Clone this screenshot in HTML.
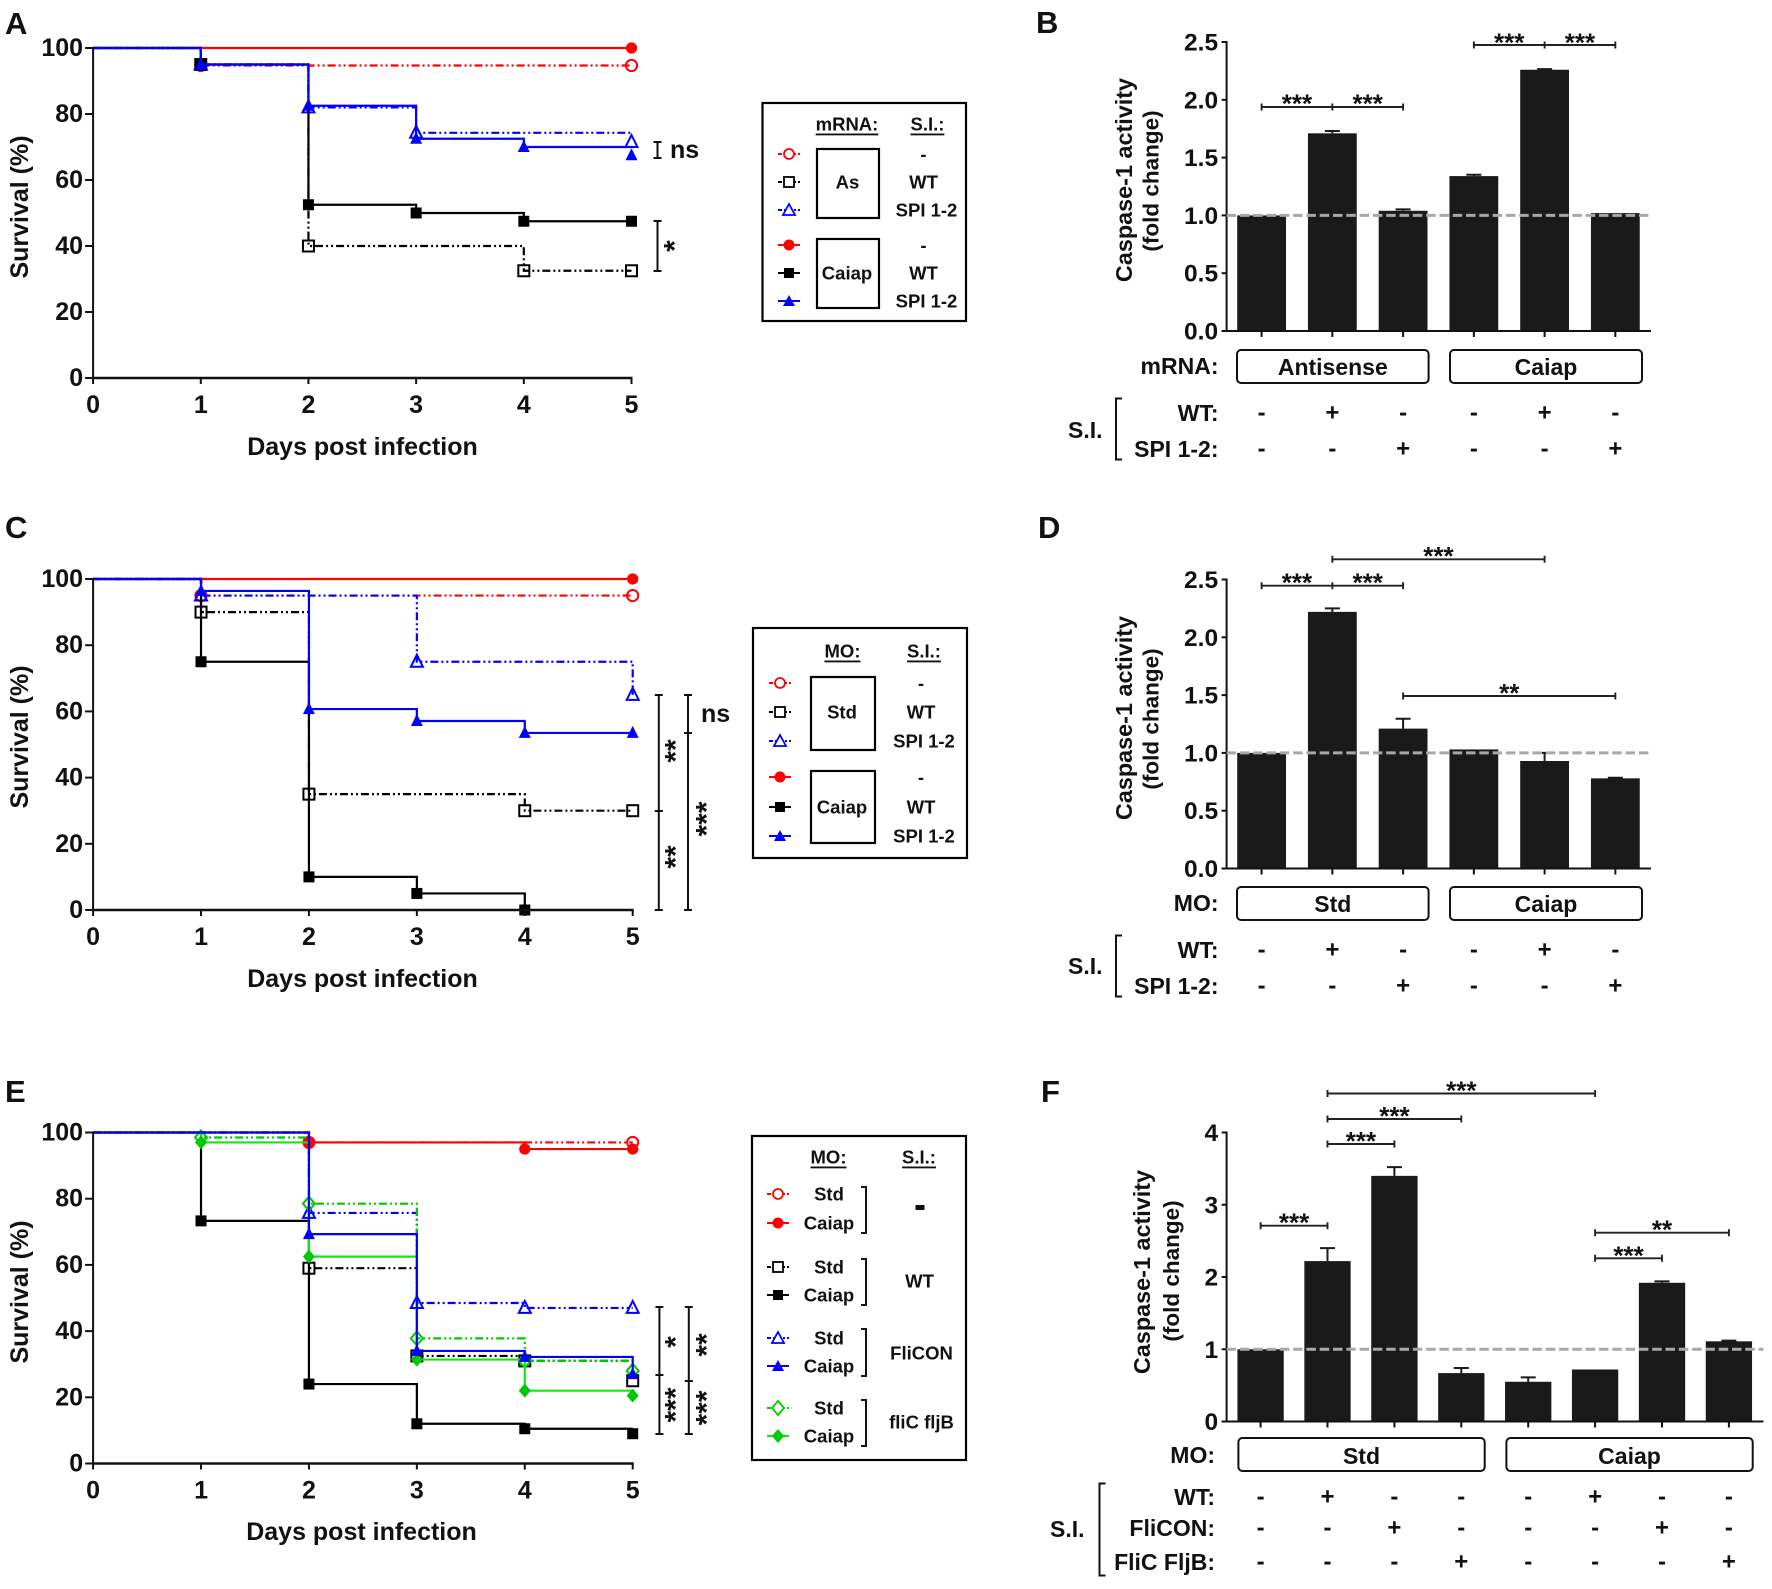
<!DOCTYPE html>
<html lang="en">
<head>
<meta charset="utf-8">
<title>Caiap survival and caspase-1 activity panels</title>
<style>
html,body{margin:0;padding:0;background:#fff;}
body{width:1772px;height:1589px;overflow:hidden;}
svg{display:block;}
text{font-family:"Liberation Sans",Arial,sans-serif;font-weight:bold;fill:#111;dominant-baseline:central;}
.l{font-size:31px;dominant-baseline:alphabetic;}
.t25{font-size:25px;}
.t24{font-size:24px;}
.t23{font-size:23px;}
.t22{font-size:22.5px;}
.t23b{font-size:23.4px;}
.t18{font-size:18.5px;}
.m{text-anchor:middle;}
.e{text-anchor:end;}
.u{text-decoration:underline;}
.frame{fill:none;stroke:#000;stroke-width:2.2;}
.gbox{fill:#fff;stroke:#111;stroke-width:2;}
.br{fill:none;stroke:#111;stroke-width:2;}
</style>
</head>
<body>
<svg id="figure" xmlns="http://www.w3.org/2000/svg" width="1772" height="1589" viewBox="0 0 1772 1589">
<defs>
<g id="sym-red-open"><path d="M-11 0H11" stroke="#f00" stroke-width="2" stroke-dasharray="4 2 2 2"/><circle r="5" fill="#fff" stroke="#f00" stroke-width="1.8"/></g>
<g id="sym-black-open"><path d="M-11 0H11" stroke="#000" stroke-width="2" stroke-dasharray="4 2 2 2"/><rect x="-5" y="-5" width="10" height="10" fill="#fff" stroke="#000" stroke-width="1.8"/></g>
<g id="sym-blue-open"><path d="M-11 0H11" stroke="#00f" stroke-width="2" stroke-dasharray="4 2 2 2"/><path d="M0-6L6 5H-6Z" fill="#fff" stroke="#00f" stroke-width="1.8"/></g>
<g id="sym-green-open"><path d="M-11 0H11" stroke="#0c0" stroke-width="2" stroke-dasharray="4 2 2 2"/><path d="M0-7L6 0L0 7L-6 0Z" fill="#fff" stroke="#0c0" stroke-width="1.8"/></g>
<g id="sym-red-solid"><path d="M-11 0H11" stroke="#f00" stroke-width="2"/><circle r="5.5" fill="#f00"/></g>
<g id="sym-black-solid"><path d="M-11 0H11" stroke="#000" stroke-width="2"/><rect x="-5" y="-5" width="10" height="10" fill="#000"/></g>
<g id="sym-blue-solid"><path d="M-11 0H11" stroke="#00f" stroke-width="2"/><path d="M0-6L6 5H-6Z" fill="#00f"/></g>
<g id="sym-green-solid"><path d="M-11 0H11" stroke="#0e0" stroke-width="2"/><path d="M0-7L6 0L0 7L-6 0Z" fill="#0c0"/></g>
</defs>

<text class="l" x="5" y="34">A</text>
<text class="l" x="1036" y="33">B</text>
<text class="l" x="5" y="538">C</text>
<text class="l" x="1038" y="538">D</text>
<text class="l" x="5" y="1102">E</text>
<text class="l" x="1041" y="1102">F</text>

<text class="t25 m" transform="translate(20,207) rotate(-90)">Survival (%)</text>
<text class="t25 m" x="362.5" y="447">Days post infection</text>
<text class="t25 m" transform="translate(20,737) rotate(-90)">Survival (%)</text>
<text class="t25 m" x="362.5" y="979">Days post infection</text>
<text class="t25 m" transform="translate(20,1292) rotate(-90)">Survival (%)</text>
<text class="t25 m" x="361.5" y="1532">Days post infection</text>

<!-- Legend A -->
<g>
<rect class="frame" x="762.5" y="103" width="203.5" height="218"/>
<text class="t18 m u" x="847" y="124">mRNA:</text><text class="t18 m u" x="927.5" y="124">S.I.:</text>
<rect class="frame" x="817" y="149" width="62" height="69"/><rect class="frame" x="817" y="239" width="62" height="69"/>
<text class="t18 m" x="847.5" y="182">As</text><text class="t18 m" x="847" y="273">Caiap</text>
<use href="#sym-red-open" x="789" y="154"/><use href="#sym-black-open" x="789" y="182"/><use href="#sym-blue-open" x="789" y="210"/>
<use href="#sym-red-solid" x="789" y="245"/><use href="#sym-black-solid" x="789" y="273"/><use href="#sym-blue-solid" x="789" y="301"/>
<text class="t18 m" x="923.5" y="154">-</text><text class="t18 m" x="923.5" y="182">WT</text><text class="t18 m" x="926.5" y="210">SPI 1-2</text>
<text class="t18 m" x="923.5" y="245">-</text><text class="t18 m" x="923.5" y="273">WT</text><text class="t18 m" x="926.5" y="301">SPI 1-2</text>
</g>

<!-- Legend C -->
<g>
<rect class="frame" x="753" y="628" width="214" height="230"/>
<text class="t18 m u" x="842.5" y="651">MO:</text><text class="t18 m u" x="924" y="651">S.I.:</text>
<rect class="frame" x="811" y="677" width="64" height="73"/><rect class="frame" x="811" y="771" width="64" height="72"/>
<text class="t18 m" x="842" y="712">Std</text><text class="t18 m" x="842" y="807">Caiap</text>
<use href="#sym-red-open" x="780" y="683"/><use href="#sym-black-open" x="780" y="712"/><use href="#sym-blue-open" x="780" y="741"/>
<use href="#sym-red-solid" x="780" y="777"/><use href="#sym-black-solid" x="780" y="807"/><use href="#sym-blue-solid" x="780" y="836"/>
<text class="t18 m" x="921" y="683">-</text><text class="t18 m" x="921" y="712">WT</text><text class="t18 m" x="924" y="741">SPI 1-2</text>
<text class="t18 m" x="921" y="777">-</text><text class="t18 m" x="921" y="807">WT</text><text class="t18 m" x="924" y="836">SPI 1-2</text>
</g>

<!-- Legend E -->
<g>
<rect class="frame" x="752" y="1136" width="214" height="324"/>
<text class="t18 m u" x="828.5" y="1157">MO:</text><text class="t18 m u" x="919" y="1157">S.I.:</text>
<use href="#sym-red-open" x="778" y="1194"/><use href="#sym-red-solid" x="778" y="1223"/>
<use href="#sym-black-open" x="778" y="1267"/><use href="#sym-black-solid" x="778" y="1295"/>
<use href="#sym-blue-open" x="778" y="1338"/><use href="#sym-blue-solid" x="778" y="1366"/>
<use href="#sym-green-open" x="778" y="1408"/><use href="#sym-green-solid" x="778" y="1436"/>
<text class="t18 m" x="829" y="1194">Std</text><text class="t18 m" x="829" y="1223">Caiap</text>
<text class="t18 m" x="829" y="1267">Std</text><text class="t18 m" x="829" y="1295">Caiap</text>
<text class="t18 m" x="829" y="1338">Std</text><text class="t18 m" x="829" y="1366">Caiap</text>
<text class="t18 m" x="829" y="1408">Std</text><text class="t18 m" x="829" y="1436">Caiap</text>
<path class="br" d="M861 1187H866V1233H861M861 1259H866V1305H861M861 1329H866V1376H861M861 1400H866V1446H861"/>
<rect x="915.5" y="1205" width="9" height="5" fill="#111"/>
<text class="t18 m" x="919.5" y="1281">WT</text><text class="t18 m" x="921.5" y="1353">FliCON</text><text class="t18 m" x="921.5" y="1422">fliC fljB</text>
</g>

<!-- Panel B labels -->
<text class="t23b m" transform="translate(1124,180) rotate(-90)">Caspase-1 activity</text>
<text class="t22 m" transform="translate(1151,181) rotate(-90)">(fold change)</text>
<text class="t23 e" x="1218.5" y="366">mRNA:</text>
<rect class="gbox" x="1237" y="350" width="191.6" height="33" rx="4"/>
<text class="t23 m" x="1332.8" y="367">Antisense</text>
<rect class="gbox" x="1450" y="350" width="192" height="33" rx="4"/>
<text class="t23 m" x="1546" y="367">Caiap</text>
<text class="t23 e" x="1218.5" y="413">WT:</text>
<text class="t23 e" x="1218.5" y="449">SPI 1-2:</text>
<text class="t23" x="1068" y="430">S.I.</text>
<path class="br" d="M1122 398.5H1116V459.5H1122"/>

<!-- Panel D labels -->
<text class="t23b m" transform="translate(1124,718) rotate(-90)">Caspase-1 activity</text>
<text class="t22 m" transform="translate(1151,719) rotate(-90)">(fold change)</text>
<text class="t23 e" x="1218.5" y="903">MO:</text>
<rect class="gbox" x="1237" y="887" width="191.6" height="33" rx="4"/>
<text class="t23 m" x="1332.8" y="904">Std</text>
<rect class="gbox" x="1450" y="887" width="192" height="33" rx="4"/>
<text class="t23 m" x="1546" y="904">Caiap</text>
<text class="t23 e" x="1218.5" y="950">WT:</text>
<text class="t23 e" x="1218.5" y="986">SPI 1-2:</text>
<text class="t23" x="1068" y="966">S.I.</text>
<path class="br" d="M1122 935.5H1116V996.5H1122"/>

<!-- Panel F labels -->
<text class="t23b m" transform="translate(1142,1272) rotate(-90)">Caspase-1 activity</text>
<text class="t22 m" transform="translate(1171.5,1271) rotate(-90)">(fold change)</text>
<text class="t23 e" x="1215" y="1455">MO:</text>
<rect class="gbox" x="1238.4" y="1438" width="246.3" height="33" rx="4"/>
<text class="t23 m" x="1361.5" y="1456">Std</text>
<rect class="gbox" x="1506.4" y="1438" width="246.3" height="33" rx="4"/>
<text class="t23 m" x="1629.5" y="1456">Caiap</text>
<text class="t23 e" x="1215" y="1497">WT:</text>
<text class="t23 e" x="1215" y="1528">FliCON:</text>
<text class="t23 e" x="1215" y="1562">FliC FljB:</text>
<text class="t23" x="1050" y="1529">S.I.</text>
<path class="br" d="M1105.5 1483.5H1099.5V1575.5H1105.5"/>

<!-- Survival annotations -->
<text class="t25" x="670" y="150">ns</text>
<text class="t25" x="701" y="714">ns</text>
</svg>

<script>
// ---------- Chart data ----------
const days = [0, 1, 2, 3, 4, 5];
const survivalTicks = [0, 20, 40, 60, 80, 100];

const aRedOpen = [100, 94.7, 94.7, 94.7, 94.7, 94.7];
const aBlackOpen = [100, 95, 40, 40, 32.5, 32.5];
const aBlueOpen = [100, 95, 82, 74.3, 74.3, 71.5];
const aRedSolid = [100, 100, 100, 100, 100, 100];
const aBlackSolid = [100, 95, 52.5, 50, 47.5, 47.5];
const aBlueSolid = [100, 95, 82.5, 72.5, 70, 67.5];

const cRedOpen = [100, 95, 95, 95, 95, 95];
const cBlackOpen = [100, 90, 35, 35, 30, 30];
const cBlueOpen = [100, 95, 95, 75, 75, 65];
const cRedSolid = [100, 100, 100, 100, 100, 100];
const cBlackSolid = [100, 75, 10, 5, 0, null];
const cBlueSolid = [100, 96.4, 60.7, 57.1, 53.5, 53.5];

const eRedOpen = [100, 100, 97, 97, 97, 97];
const eBlackOpen = [100, 100, 59, 32.5, 31, 25];
const eBlueOpen = [100, 100, 75.7, 48.5, 47, 47];
const eGreenOpen = [100, 98.5, 78.5, 37.8, 31, 28];
const eRedSolid = [100, 100, 97, 97, 95, 95];
const eBlackSolid = [100, 73.3, 24, 12, 10.5, 9];
const eGreenSolid = [100, 97, 62.5, 31.4, 22, 20.5];
const eBlueSolid = [100, 100, 69.3, 34, 32.2, 27];

const bdTicks = ['0.0', '0.5', '1.0', '1.5', '2.0', '2.5'];
const fTicks = ['0', '1', '2', '3', '4'];

const bMeans = [1.0, 1.71, 1.04, 1.34, 2.26, 1.02];
const bErrors = [0, 0.02, 0.012, 0.012, 0.005, 0];
const bWt = ['-', '+', '-', '-', '+', '-'];
const bSpi = ['-', '-', '+', '-', '-', '+'];

const dMeans = [1.0, 2.22, 1.21, 1.03, 0.93, 0.78];
const dErrors = [0, 0.03, 0.085, 0, 0.07, 0.005];
const dWt = ['-', '+', '-', '-', '+', '-'];
const dSpi = ['-', '-', '+', '-', '-', '+'];

const fMeans = [1.0, 2.22, 3.4, 0.67, 0.55, 0.72, 1.92, 1.11];
const fErrors = [0, 0.18, 0.12, 0.07, 0.06, 0, 0.02, 0.01];
const fWt = ['-', '+', '-', '-', '-', '+', '-', '-'];
const fFlicon = ['-', '-', '+', '-', '-', '-', '+', '-'];
const fFlicFljb = ['-', '-', '-', '+', '-', '-', '-', '+'];

// ---------- Helpers ----------
const NS = 'http://www.w3.org/2000/svg';
const root = document.getElementById('figure');

function mk(tag, attrs, parent) {
  const el = document.createElementNS(NS, tag);
  for (const k in attrs) el.setAttribute(k, attrs[k]);
  (parent || root).appendChild(el);
  return el;
}

function label(parent, x, y, str, size, anchor, name) {
  const t = mk('text', { x: x, y: y, 'text-anchor': anchor }, parent);
  t.style.fontSize = size + 'px';
  t.textContent = str;
  
  
  return t;
}

const seriesLook = {
  'red-open': { color: '#f00', marker: 'circle', open: true },
  'black-open': { color: '#000', marker: 'square', open: true },
  'blue-open': { color: '#00f', marker: 'triangle', open: true },
  'green-open': { color: '#00c800', marker: 'diamond', open: true },
  'red-solid': { color: '#f00', marker: 'circle', open: false },
  'black-solid': { color: '#000', marker: 'square', open: false },
  'green-solid': { color: '#10e810', marker: 'diamond', open: false, markerColor: '#00c800' },
  'blue-solid': { color: '#00f', marker: 'triangle', open: false }
};

function drawMarker(parent, look, cx, cy, name) {
  const col = look.markerColor || look.color;
  const paint = look.open
    ? { fill: 'none', stroke: col, 'stroke-width': 2 }
    : { fill: col };
  let el;
  if (look.marker === 'circle') {
    el = mk('circle', Object.assign({ cx: cx, cy: cy, r: 5.6 }, paint), parent);
  } else if (look.marker === 'square') {
    el = mk('rect', Object.assign({ x: cx - 5.5, y: cy - 5.5, width: 11, height: 11 }, paint), parent);
  } else if (look.marker === 'triangle') {
    const pts = [cx, cy - 7, cx + 6, cy + 5, cx - 6, cy + 5].join(' ');
    el = mk('polygon', Object.assign({ points: pts }, paint), parent);
  } else {
    const pts = [cx, cy - 7, cx + 6, cy, cx, cy + 7, cx - 6, cy].join(' ');
    el = mk('polygon', Object.assign({ points: pts }, paint), parent);
  }
  
  
}

function survivalPanel(id, geom, series) {
  const g = mk('g', {});
  
  
  const xScale = d => geom.x0 + (d - days[0]) / (days[days.length - 1] - days[0]) * (geom.x5 - geom.x0);
  const yScale = v => geom.y0 + (v / 100) * (geom.y100 - geom.y0);

  // series
  series.forEach(s => {
    const look = seriesLook[s.key];
    const sg = mk('g', {}, g);
    
    
    let last = s.values.length - 1;
    while (s.values[last] === null) last--;
    let d = 'M' + xScale(days[0]) + ' ' + yScale(s.values[0]);
    for (let i = 1; i <= last; i++) {
      d += 'H' + xScale(days[i]);
      const isFinal = i === s.values.length - 1;
      if (!isFinal || s.dropLast) d += 'V' + yScale(s.values[i]);
    }
    const line = mk('path', {
      d: d, fill: 'none', stroke: look.color, 'stroke-width': 2.2,
      'stroke-dasharray': look.open ? '8 3 2 3 2 3' : 'none'
    }, sg);
    
    
    for (let i = 1; i <= last; i++) {
      if (s.values[i] !== s.values[i - 1] || i === last) {
        drawMarker(sg, look, xScale(days[i]), yScale(s.values[i]), 'point-' + id + '-' + s.key + '-day-' + days[i]);
      }
    }
  });

  // axes
  const ya = mk('line', { x1: geom.x0, x2: geom.x0, y1: geom.y100 - 1, y2: geom.y0 + 1, stroke: '#111', 'stroke-width': 2 }, g);
  
  
  const xa = mk('line', { x1: geom.x0 - 1, x2: geom.x5 + 1, y1: geom.y0, y2: geom.y0, stroke: '#111', 'stroke-width': 2.4 }, g);
  
  

  survivalTicks.forEach(v => {
    const tk = mk('line', { x1: geom.x0 - 8, x2: geom.x0, y1: yScale(v), y2: yScale(v), stroke: '#111', 'stroke-width': 2 }, g);
    
    
    label(g, geom.x0 - 10, yScale(v), String(v), 25, 'end', 'y-tick-label-' + id + '-' + v);
  });
  days.forEach(d => {
    const tk = mk('line', { x1: xScale(d), x2: xScale(d), y1: geom.y0, y2: geom.y0 + 6, stroke: '#111', 'stroke-width': 2 }, g);
    
    
    label(g, xScale(d), geom.y0 + 27, String(d), 25, 'middle', 'x-tick-label-' + id + '-' + d);
  });
}

function barPanel(id, geom, means, errors, ticks, rows) {
  const g = mk('g', {});
  
  
  const xScale = i => geom.first + i * geom.step;
  const maxTick = parseFloat(ticks[ticks.length - 1]);
  const yScale = v => geom.y0 + (v / maxTick) * (geom.yTop - geom.y0);

  means.forEach((m, i) => {
    const cx = xScale(i);
    if (errors[i] > 0) {
      const ey = yScale(m + errors[i]);
      const eb = mk('path', { d: 'M' + cx + ' ' + yScale(m) + 'V' + ey + 'M' + (cx - 7.5) + ' ' + ey + 'H' + (cx + 7.5), stroke: '#1a1a1a', 'stroke-width': 2, fill: 'none' }, g);
      
      
    }
    const b = mk('rect', { x: cx - geom.w / 2, y: yScale(m), width: geom.w, height: geom.y0 - yScale(m), fill: '#1a1a1a' }, g);
    
    
    const tk = mk('line', { x1: cx, x2: cx, y1: geom.y0, y2: geom.y0 + 6, stroke: '#111', 'stroke-width': 2 }, g);
    
    
  });

  const ya = mk('line', { x1: geom.axisX, x2: geom.axisX, y1: geom.yTop - 1, y2: geom.y0 + 1, stroke: '#111', 'stroke-width': 2 }, g);
  
  
  const xa = mk('line', { x1: geom.axisX - 5, x2: geom.right, y1: geom.y0, y2: geom.y0, stroke: '#111', 'stroke-width': 2 }, g);
  
  

  const ref = mk('line', { x1: geom.axisX, x2: geom.right, y1: yScale(1), y2: yScale(1), stroke: '#a8a8a8', 'stroke-width': 3, 'stroke-dasharray': '9.5 3.8' }, g);
  
  

  ticks.forEach(t => {
    const v = parseFloat(t);
    const tk = mk('line', { x1: geom.axisX - 5, x2: geom.axisX, y1: yScale(v), y2: yScale(v), stroke: '#111', 'stroke-width': 2 }, g);
    
    
    label(g, geom.axisX - 8.5, yScale(v) + 1, t, 24.5, 'end', 'y-tick-label-' + id + '-' + t);
  });

  rows.forEach(r => {
    r.signs.forEach((s, i) => {
      label(g, xScale(i), r.y, s, 24, 'middle', 'treatment-' + r.name + '-' + id + '-' + i);
    });
  });

  return xScale;
}

function sigBracket(id, xA, xB, y, stars, midX) {
  const g = mk('g', {});
  
  
  let d = 'M' + xA + ' ' + (y - 3.5) + 'V' + (y + 3.5) + 'M' + xB + ' ' + (y - 3.5) + 'V' + (y + 3.5) + 'M' + xA + ' ' + y + 'H' + xB;
  if (midX !== undefined) d += 'M' + midX + ' ' + (y - 3.5) + 'V' + (y + 3.5);
  const p = mk('path', { d: d, fill: 'none', stroke: '#222', 'stroke-width': 1.9 }, g);
  
  
  return g;
}

function stars(parent, x, y, str, name) {
  // y is the visual centre of the asterisks
  return label(parent, x, y + 5.5, str, 26, 'middle', name);
}

function vBracket(id, x, y1, y2, mid) {
  let d = 'M' + x + ' ' + y1 + 'V' + y2 + 'M' + (x - 4) + ' ' + y1 + 'H' + (x + 4) + 'M' + (x - 4) + ' ' + y2 + 'H' + (x + 4);
  if (mid !== undefined) d += 'M' + (x - 4) + ' ' + mid + 'H' + (x + 4);
  const p = mk('path', { d: d, fill: 'none', stroke: '#111', 'stroke-width': 2 });
  
  
}

function vStars(id, x, y, str) {
  const t = mk('text', { transform: 'translate(' + (x + 6) + ',' + y + ') rotate(-90)', 'text-anchor': 'middle' });
  t.style.fontSize = '30px';
  t.textContent = str;
  
  
}

// ---------- Survival panels ----------
survivalPanel('a', { x0: 93.1, x5: 631.5, y100: 48, y0: 378 }, [
  { key: 'red-open', values: aRedOpen },
  { key: 'black-open', values: aBlackOpen },
  { key: 'blue-open', values: aBlueOpen },
  { key: 'red-solid', values: aRedSolid },
  { key: 'black-solid', values: aBlackSolid },
  { key: 'blue-solid', values: aBlueSolid }
]);
survivalPanel('c', { x0: 93.1, x5: 632.7, y100: 579, y0: 910 }, [
  { key: 'red-open', values: cRedOpen },
  { key: 'black-open', values: cBlackOpen },
  { key: 'blue-open', values: cBlueOpen, dropLast: true },
  { key: 'red-solid', values: cRedSolid },
  { key: 'black-solid', values: cBlackSolid },
  { key: 'blue-solid', values: cBlueSolid }
]);
survivalPanel('e', { x0: 93.1, x5: 632.7, y100: 1132.5, y0: 1463.5 }, [
  { key: 'red-open', values: eRedOpen },
  { key: 'black-open', values: eBlackOpen },
  { key: 'blue-open', values: eBlueOpen },
  { key: 'green-open', values: eGreenOpen },
  { key: 'red-solid', values: eRedSolid },
  { key: 'black-solid', values: eBlackSolid },
  { key: 'green-solid', values: eGreenSolid },
  { key: 'blue-solid', values: eBlueSolid, dropLast: true }
]);

vBracket('a-ns', 657.5, 142, 158);
vBracket('a-star', 657.5, 221, 271);
vStars('a-star', 669, 246, '*');
vBracket('c-left', 658.8, 695, 910, 811);
vBracket('c-right', 688, 695, 910, 733);
vStars('c-top', 670, 751, '**');
vStars('c-bottom', 670, 857, '**');
vStars('c-right', 701, 819, '***');
vBracket('e-left', 659.4, 1307, 1434, 1375);
vBracket('e-right', 688.8, 1307, 1434, 1381);
vStars('e-left-top', 670, 1342, '*');
vStars('e-left-bottom', 670, 1405, '***');
vStars('e-right-top', 701, 1345, '**');
vStars('e-right-bottom', 701, 1408, '***');

// ---------- Bar panels ----------
const xB = barPanel('b', { first: 1261.6, step: 70.75, w: 48.8, y0: 331, yTop: 42, axisX: 1226.6, right: 1651 }, bMeans, bErrors, bdTicks, [
  { name: 'wt', signs: bWt, y: 413 },
  { name: 'spi', signs: bSpi, y: 449 }
]);
const xD = barPanel('d', { first: 1261.6, step: 70.75, w: 48.8, y0: 868.5, yTop: 579.5, axisX: 1226.6, right: 1651 }, dMeans, dErrors, bdTicks, [
  { name: 'wt', signs: dWt, y: 950 },
  { name: 'spi', signs: dSpi, y: 986 }
]);
const xF = barPanel('f', { first: 1260.6, step: 66.9, w: 46.3, y0: 1421.5, yTop: 1132.5, axisX: 1226.6, right: 1763.5 }, fMeans, fErrors, fTicks, [
  { name: 'wt', signs: fWt, y: 1497 },
  { name: 'flicon', signs: fFlicon, y: 1528 },
  { name: 'flic-fljb', signs: fFlicFljb, y: 1562 }
]);

let sb;
sb = sigBracket('b-1', xB(0), xB(2), 107, '', xB(1));
stars(sb, (xB(0) + xB(1)) / 2, 98, '***', 'stars-b-1');
stars(sb, (xB(1) + xB(2)) / 2, 98, '***', 'stars-b-2');
sb = sigBracket('b-2', xB(3), xB(5), 45, '', xB(4));
stars(sb, (xB(3) + xB(4)) / 2, 37, '***', 'stars-b-3');
stars(sb, (xB(4) + xB(5)) / 2, 37, '***', 'stars-b-4');

sb = sigBracket('d-1', xD(0), xD(2), 585.7, '', xD(1));
stars(sb, (xD(0) + xD(1)) / 2, 577, '***', 'stars-d-1');
stars(sb, (xD(1) + xD(2)) / 2, 577, '***', 'stars-d-2');
sb = sigBracket('d-2', xD(1), xD(4), 559.3, '');
stars(sb, (xD(1) + xD(4)) / 2, 550.5, '***', 'stars-d-3');
sb = sigBracket('d-3', xD(2), xD(5), 696, '');
stars(sb, (xD(2) + xD(5)) / 2, 687.5, '**', 'stars-d-4');

sb = sigBracket('f-1', xF(0), xF(1), 1225.7, '');
stars(sb, (xF(0) + xF(1)) / 2, 1217, '***', 'stars-f-1');
sb = sigBracket('f-2', xF(1), xF(2), 1144, '');
stars(sb, (xF(1) + xF(2)) / 2, 1135.5, '***', 'stars-f-2');
sb = sigBracket('f-3', xF(1), xF(3), 1119, '');
stars(sb, (xF(1) + xF(3)) / 2, 1110.5, '***', 'stars-f-3');
sb = sigBracket('f-4', xF(1), xF(5), 1093.5, '');
stars(sb, (xF(1) + xF(5)) / 2, 1085, '***', 'stars-f-4');
sb = sigBracket('f-5', xF(5), xF(6), 1258.3, '');
stars(sb, (xF(5) + xF(6)) / 2, 1250, '***', 'stars-f-5');
sb = sigBracket('f-6', xF(5), xF(7), 1232.7, '');
stars(sb, (xF(5) + xF(7)) / 2, 1224, '**', 'stars-f-6');
</script>
</body>
</html>
